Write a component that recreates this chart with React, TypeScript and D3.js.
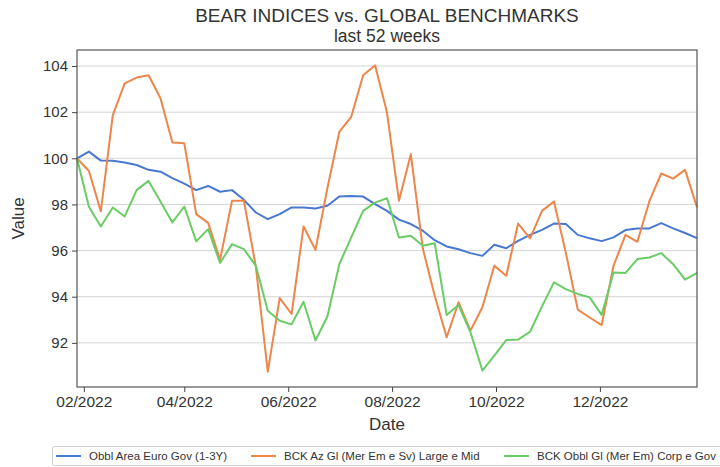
import React, { useEffect, useRef } from 'react';
import * as d3 from 'd3';

// weekly values, last 52 weeks (53 points)
const startDate = '2022-01-28';

const seriesNames = [
    'Obbl Area Euro Gov (1-3Y)',
    'BCK Az Gl (Mer Em e Sv) Large e Mid',
    'BCK Obbl Gl (Mer Em) Corp e Gov',
];

const obblEuroGov = [
    100.0, 100.29, 99.9, 99.89, 99.82, 99.71, 99.5, 99.42, 99.14, 98.9,
    98.62, 98.8, 98.55, 98.62, 98.2, 97.65, 97.36, 97.58, 97.87, 97.87,
    97.82, 97.94, 98.34, 98.37, 98.34, 98.01, 97.72, 97.34, 97.15, 96.86,
    96.45, 96.18, 96.06, 95.89, 95.77, 96.25, 96.1, 96.42, 96.68, 96.9,
    97.17, 97.15, 96.68, 96.53, 96.41, 96.57, 96.89, 96.96, 96.96, 97.19,
    96.96, 96.76, 96.54,
];

const bckAzGl = [
    100.0, 99.45, 97.7, 101.86, 103.25, 103.5, 103.6, 102.6, 100.68, 100.65,
    97.58, 97.2, 95.6, 98.16, 98.16, 95.3, 90.75, 93.94, 93.25, 97.04,
    96.03, 98.7, 101.14, 101.8, 103.6, 104.03, 101.98, 98.16, 100.18, 96.1,
    94.04, 92.24, 93.76, 92.53, 93.54, 95.34, 94.91, 97.17, 96.53, 97.72,
    98.13, 95.9, 93.44, 93.1, 92.77, 95.34, 96.68, 96.38, 98.13, 99.34,
    99.12, 99.5, 97.87,
];

const bckObblGl = [
    100.0, 97.9, 97.04, 97.87, 97.48, 98.62, 99.02, 98.13, 97.22, 97.91,
    96.4, 96.93, 95.46, 96.28, 96.06, 95.34, 93.39, 92.96, 92.8, 93.78,
    92.1, 93.14, 95.41, 96.57, 97.72, 98.08, 98.27, 96.57, 96.64, 96.21,
    96.32, 93.21, 93.64, 92.46, 90.8, 91.45, 92.12, 92.14, 92.48, 93.58,
    94.62, 94.33, 94.12, 93.97, 93.21, 95.05, 95.03, 95.63, 95.7, 95.89,
    95.41, 94.74, 95.03,
];

const yTicks = [92, 94, 96, 98, 100, 102, 104];
const xTickDates = ['2022-02-01', '2022-04-01', '2022-06-01', '2022-08-01', '2022-10-01', '2022-12-01'];

const colors = ['#4878d0', '#ee854a', '#6acc64'];

export default function App() {
    const ref = useRef<SVGSVGElement>(null);

    useEffect(() => {
        const svg = d3.select(ref.current);
        svg.selectAll('*').remove();

        const width = 720;
        const height = 467;
        const margin = { top: 50, right: 23, bottom: 80, left: 77 };
        const font = '"Liberation Sans", Arial, sans-serif';

        const start = d3.timeParse('%Y-%m-%d')(startDate) as Date;
        const dates = obblEuroGov.map((_, i) => d3.timeDay.offset(start, 7 * i));
        const allSeries = [obblEuroGov, bckAzGl, bckObblGl];

        const x = d3.scaleTime()
            .domain(d3.extent(dates) as [Date, Date])
            .range([margin.left, width - margin.right]);

        const allVals = allSeries.flat();
        const lo = d3.min(allVals) as number;
        const hi = d3.max(allVals) as number;
        const pad = (hi - lo) * 0.05;
        const y = d3.scaleLinear()
            .domain([lo - pad, hi + pad])
            .range([height - margin.bottom, margin.top]);

        // grid
        svg.append('g')
            .selectAll('line')
            .data(yTicks)
            .join('line')
            .attr('x1', margin.left)
            .attr('x2', width - margin.right)
            .attr('y1', d => y(d))
            .attr('y2', d => y(d))
            .attr('stroke', '#d4d4d4')
            .attr('stroke-width', 1);

        // lines
        const line = d3.line<number>()
            .x((_, i) => x(dates[i]))
            .y(d => y(d));

        allSeries.forEach((s, k) => {
            svg.append('path')
                .datum(s)
                .attr('d', line)
                .attr('fill', 'none')
                .attr('stroke', colors[k])
                .attr('stroke-width', 2)
                .attr('stroke-linejoin', 'round');
        });

        // frame
        svg.append('rect')
            .attr('x', margin.left)
            .attr('y', margin.top)
            .attr('width', width - margin.left - margin.right)
            .attr('height', height - margin.top - margin.bottom)
            .attr('fill', 'none')
            .attr('stroke', '#555')
            .attr('stroke-width', 1.2);

        // axes
        const yAxis = d3.axisLeft(y).tickValues(yTicks).tickSize(5).tickPadding(4);
        const yG = svg.append('g')
            .attr('transform', `translate(${margin.left},0)`)
            .call(yAxis);

        const parse = d3.timeParse('%Y-%m-%d');
        const xAxis = d3.axisBottom(x)
            .tickValues(xTickDates.map(d => parse(d) as Date))
            .tickFormat(d => d3.timeFormat('%m/%Y')(d as Date))
            .tickSize(5)
            .tickPadding(4);
        const xG = svg.append('g')
            .attr('transform', `translate(0,${height - margin.bottom})`)
            .call(xAxis);

        [xG, yG].forEach(g => {
            g.select('.domain').remove();
            g.selectAll('line').attr('stroke', '#444');
            g.selectAll('text')
                .attr('fill', '#333')
                .style('font-family', font);
        });
        yG.selectAll('text').style('font-size', '15px');
        xG.selectAll('text').style('font-size', '15.5px');

        // titles
        const cx = (margin.left + width - margin.right) / 2;
        svg.append('text')
            .attr('x', cx).attr('y', 22)
            .attr('text-anchor', 'middle')
            .attr('fill', '#333')
            .style('font-family', font).style('font-size', '19px')
            .text('BEAR INDICES vs. GLOBAL BENCHMARKS');
        svg.append('text')
            .attr('x', cx).attr('y', 41.5)
            .attr('text-anchor', 'middle')
            .attr('fill', '#333')
            .style('font-family', font).style('font-size', '17.5px')
            .text('last 52 weeks');

        svg.append('text')
            .attr('x', cx).attr('y', 430)
            .attr('text-anchor', 'middle')
            .attr('fill', '#333')
            .style('font-family', font).style('font-size', '17px')
            .text('Date');
        svg.append('text')
            .attr('transform', `translate(24,${(margin.top + height - margin.bottom) / 2}) rotate(-90)`)
            .attr('text-anchor', 'middle')
            .attr('fill', '#333')
            .style('font-family', font).style('font-size', '17px')
            .text('Value');

        // legend
        const legend = svg.append('g');
        legend.append('rect')
            .attr('x', 52.5).attr('y', 446.5)
            .attr('width', 680).attr('height', 19)
            .attr('fill', 'white')
            .attr('stroke', '#ccc')
            .attr('rx', 2);
        const legendX = [56, 251, 504];
        seriesNames.forEach((name, k) => {
            const g = legend.append('g').attr('transform', `translate(${legendX[k]},456)`);
            g.append('line')
                .attr('x1', 0).attr('x2', 25)
                .attr('stroke', colors[k]).attr('stroke-width', 2);
            g.append('text')
                .attr('x', 33).attr('y', 4)
                .attr('fill', '#333')
                .style('font-family', font).style('font-size', '11.5px')
                .text(name);
        });
    }, []);

    return (
        <svg ref={ref} width={720} height={467}
            style={{ position: 'absolute', left: 0, top: 0, background: 'white' }} />
    );
}
